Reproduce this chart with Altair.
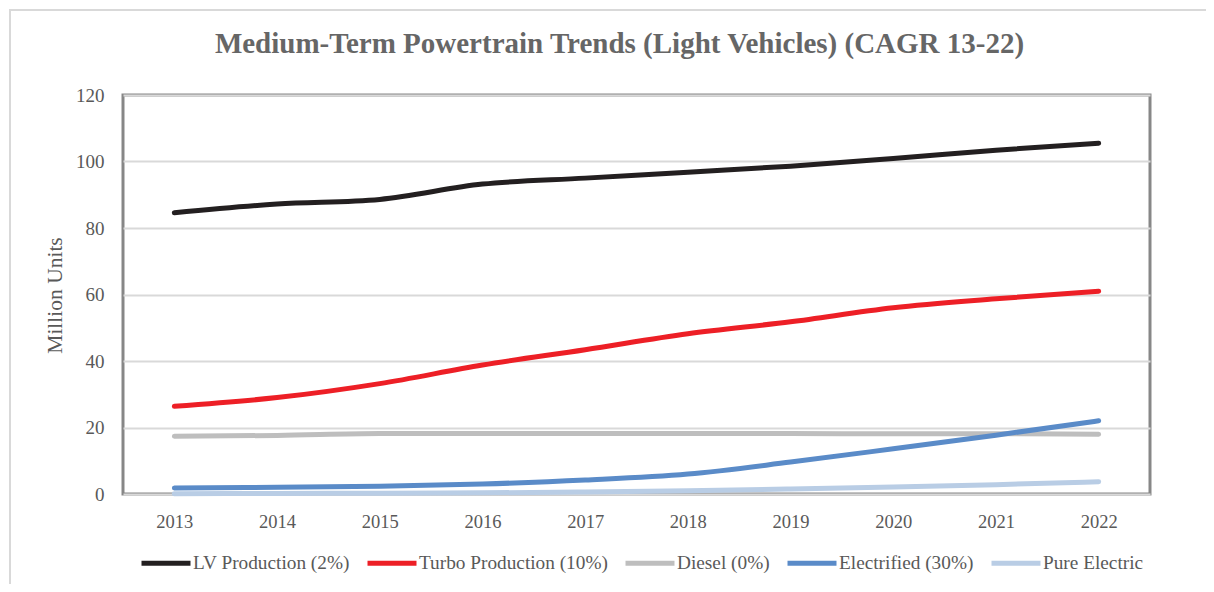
import altair as alt
import pandas as pd

years = ["2013", "2014", "2015", "2016", "2017", "2018", "2019", "2020", "2021", "2022"]
series_names = ["LV Production (2%)", "Turbo Production (10%)", "Diesel (0%)",
                "Electrified (30%)", "Pure Electric"]
lv_production = [84.6, 87.2, 88.6, 93.2, 95.0, 96.8, 98.6, 100.9, 103.4, 105.5]
turbo_production = [26.4, 29.0, 33.2, 38.8, 43.4, 48.2, 51.8, 56.0, 58.7, 61.0]
diesel = [17.4, 17.6, 18.2, 18.2, 18.2, 18.2, 18.2, 18.1, 18.1, 18.0]
electrified = [1.8, 2.0, 2.3, 3.0, 4.2, 6.0, 9.6, 13.6, 17.7, 22.0]
pure_electric = [0.1, 0.15, 0.25, 0.35, 0.6, 1.0, 1.5, 2.1, 2.8, 3.7]
colors = ["#231f20", "#ed1f26", "#bebebe", "#5a8bc8", "#b9cde5"]

all_series = [lv_production, turbo_production, diesel, electrified, pure_electric]
rows = []
for order, (name, vals) in enumerate(zip(series_names, all_series)):
    for y, v in zip(years, vals):
        rows.append({"year": y, "series": name, "value": v, "order": order})
df = pd.DataFrame(rows)

FONT = "Liberation Serif"
GREY = "#595959"

lines = alt.Chart(df).mark_line(
    strokeWidth=5, strokeCap="round", interpolate="monotone"
).encode(
    x=alt.X("year:O", title=None, sort=years,
            axis=alt.Axis(labelAngle=0, ticks=False, domain=False, grid=False,
                          labelPadding=18, labelFont=FONT, labelFontSize=18.5,
                          labelColor=GREY)),
    y=alt.Y("value:Q", title="Million Units",
            scale=alt.Scale(domain=[0, 120], nice=False),
            axis=alt.Axis(values=[0, 20, 40, 60, 80, 100, 120], ticks=False,
                          domain=False, gridColor="#d9d9d9", gridWidth=2,
                          labelPadding=19, labelFont=FONT, labelFontSize=19,
                          labelColor=GREY, titleFont=FONT, titleFontSize=21.5,
                          titleFontWeight="normal", titleColor=GREY,
                          titleX=-68, titleY=200, titleAngle=-90,
                          titleBaseline="middle", titleAlign="center")),
    color=alt.Color("series:N",
                    scale=alt.Scale(domain=series_names, range=colors),
                    legend=alt.Legend(orient="none", legendX=16, legendY=441,
                                      direction="horizontal", title=None,
                                      symbolType="stroke", symbolStrokeWidth=5,
                                      symbolSize=2400, labelFont=FONT,
                                      labelFontSize=19.3, labelColor=GREY,
                                      labelLimit=0, columnPadding=7,
                                      labelOffset=0)),
    order=alt.Order("order:Q"),
)

frame = alt.Chart(pd.DataFrame({"k": [0]})).mark_rect(
    filled=False, stroke="#d9d9d9", strokeWidth=2
).encode(
    x=alt.value(-113), x2=alt.value(1200), y=alt.value(-85), y2=alt.value(600)
)

chart = alt.layer(frame, lines).properties(
    width=1027, height=399,
    title=alt.Title("Medium-Term Powertrain Trends (Light Vehicles) (CAGR 13-22)",
                    font=FONT, fontSize=29, fontWeight="bold", color="#666666",
                    anchor="middle", dx=-17, dy=73, offset=0, baseline="alphabetic"),
    autosize=alt.AutoSizeParams(type="none"),
    padding={"left": 115, "top": 87, "right": 56, "bottom": 90},
).configure_view(stroke="#878787", strokeWidth=3)

chart.save("out.html", embed_options={"renderer": "svg", "actions": False})
